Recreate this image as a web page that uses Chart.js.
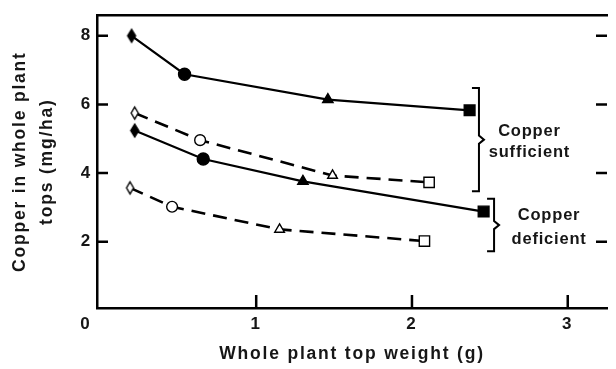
<!DOCTYPE html>
<html>
<head>
<meta charset="utf-8">
<script src="https://cdn.jsdelivr.net/npm/chart.js@4/dist/chart.umd.min.js"></script>
<style>
  html, body { margin: 0; padding: 0; background: #fff; overflow: hidden; }
  canvas { display: block; }
</style>
</head>
<body>
<canvas id="canvas" width="616" height="369"></canvas>
<script>
// values: top weight (g) vs copper (mg/ha)
const suffSolidX = [0.20, 0.54, 1.46, 2.37];
const suffSolidY = [8.00, 6.88, 6.14, 5.83];
const suffDashX  = [0.22, 0.64, 1.49, 2.11];
const suffDashY  = [5.75, 4.96, 3.93, 3.73];
const defSolidX  = [0.22, 0.66, 1.30, 2.46];
const defSolidY  = [5.24, 4.41, 3.76, 2.88];
const defDashX   = [0.19, 0.46, 1.15, 2.08];
const defDashY   = [3.57, 3.02, 2.36, 2.02];

const xTicks = [1, 2, 3];
const yTicks = [2, 4, 6, 8];
const originLabel = '0';
const xTitle = 'Whole plant top weight (g)';
const yTitle = ['Copper in whole plant', 'tops (mg/ha)'];
const groupLabels = [['Copper', 'sufficient'], ['Copper', 'deficient']];

const FONT = '"Liberation Sans", Arial, sans-serif';
const INK = '#161616';

// bracket placement (data units)
const brackets = [
    { x: 2.43, top: 6.48, bottom: 3.47, textX: 2.754, textY: [5.22, 4.59] },
    { x: 2.527, top: 3.25, bottom: 1.72, textX: 2.88, textY: [2.77, 2.06] }
];

function diamond(w, h, filled) {
    const c = document.createElement('canvas');
    c.width = w + 4; c.height = h + 4;
    const g = c.getContext('2d');
    g.beginPath();
    g.moveTo(c.width / 2, 2);
    g.lineTo(c.width - 2, c.height / 2);
    g.lineTo(c.width / 2, c.height - 2);
    g.lineTo(2, c.height / 2);
    g.closePath();
    g.fillStyle = filled ? '#000' : '#fff';
    g.fill();
    g.lineWidth = 1.4;
    g.strokeStyle = '#000';
    g.stroke();
    return c;
}
const dFill = diamond(8, 13, true);
const dOpen = diamond(7, 12, false);

function series(xs, ys, filled, dashed) {
    return {
        data: xs.map((x, i) => ({ x, y: ys[i] })),
        borderColor: '#000',
        borderWidth: dashed ? 2.6 : 2.2,
        borderDash: dashed ? [14, 8] : [],
        tension: 0,
        pointStyle: [filled ? dFill : dOpen, 'circle', 'triangle', 'rect'],
        pointRadius: filled ? [7, 6, 6, 7.6] : [6, 5.4, 5.6, 7.3],
        pointBackgroundColor: filled ? '#000' : '#fff',
        pointBorderColor: '#000',
        pointBorderWidth: 1.4
    };
}

const frame = {
    id: 'frame',
    beforeUpdate(chart) { chart.ctx.letterSpacing = '1.8px'; },
    beforeDraw(chart) { chart.ctx.letterSpacing = '1.8px'; },
    afterDraw(chart) {
        const { ctx, chartArea: a, scales: { x, y } } = chart;
        ctx.save();
        ctx.strokeStyle = '#000';
        ctx.lineWidth = 2.5;
        ctx.beginPath();
        yTicks.forEach(v => {
            const py = y.getPixelForValue(v);
            ctx.moveTo(a.left, py); ctx.lineTo(a.left + 11, py);
            ctx.moveTo(a.right - 11, py); ctx.lineTo(a.right, py);
        });
        xTicks.forEach(v => {
            const px = x.getPixelForValue(v);
            ctx.moveTo(px, a.bottom); ctx.lineTo(px, a.bottom - 13);
        });
        ctx.stroke();

        // braces
        ctx.lineWidth = 2;
        brackets.forEach(b => {
            const bx = x.getPixelForValue(b.x);
            const t = y.getPixelForValue(b.top), btm = y.getPixelForValue(b.bottom);
            const mid = (t + btm) / 2;
            ctx.beginPath();
            ctx.moveTo(bx - 7, t);
            ctx.lineTo(bx, t);
            ctx.lineTo(bx, mid - 4);
            ctx.lineTo(bx + 5, mid);
            ctx.lineTo(bx, mid + 4);
            ctx.lineTo(bx, btm);
            ctx.lineTo(bx - 7, btm);
            ctx.stroke();
        });

        ctx.fillStyle = INK;
        ctx.font = 'bold 16.5px ' + FONT;
        ctx.letterSpacing = '0.8px';
        ctx.textAlign = 'center';
        ctx.textBaseline = 'middle';
        brackets.forEach((b, i) => {
            groupLabels[i].forEach((txt, j) => {
                ctx.fillText(txt, x.getPixelForValue(b.textX), y.getPixelForValue(b.textY[j]));
            });
        });
        ctx.letterSpacing = '0px';
        ctx.font = 'bold 17px ' + FONT;
        ctx.fillText(originLabel, a.left - 12, x.top + 6 + 10.2);
        ctx.restore();
    }
};

const ctx = document.getElementById('canvas').getContext('2d');
new Chart(ctx, {
    type: 'line',
    data: {
        datasets: [
            series(suffSolidX, suffSolidY, true, false),
            series(suffDashX, suffDashY, false, true),
            series(defSolidX, defSolidY, true, false),
            series(defDashX, defDashY, false, true)
        ]
    },
    options: {
        responsive: false,
        animation: false,
        layout: { padding: { top: 8, left: 0, right: 0, bottom: 0 } },
        plugins: { legend: { display: false }, tooltip: { enabled: false } },
        scales: {
            x: {
                type: 'linear', position: 'bottom', min: -0.022, max: 3.252,
                afterBuildTicks: s => { s.ticks = xTicks.map(v => ({ value: v })); },
                afterFit: s => { s.height = 61; },
                grid: { drawOnChartArea: false, drawTicks: false },
                border: { display: true, color: '#000', width: 2.5 },
                ticks: { color: INK, font: { size: 17, family: FONT, weight: 'bold' }, padding: 6, maxRotation: 0 },
                title: { display: true, text: xTitle, color: INK,
                         font: { size: 17.5, family: FONT, weight: 'bold', lineHeight: 1.5 }, padding: { top: 0, bottom: 1.5 } }
            },
            x2: {
                type: 'linear', position: 'top', min: -0.022, max: 3.252,
                afterFit: s => { s.height = 0; },
                grid: { drawOnChartArea: false, drawTicks: false },
                border: { display: true, color: '#000', width: 2.5 },
                ticks: { display: false }
            },
            y: {
                type: 'linear', position: 'left', min: 0.07, max: 8.6,
                afterBuildTicks: s => { s.ticks = yTicks.map(v => ({ value: v })); },
                afterFit: s => { s.width = 97; },
                grid: { drawOnChartArea: false, drawTicks: false },
                border: { display: true, color: '#000', width: 2.5 },
                ticks: { color: INK, font: { size: 17, family: FONT, weight: 'bold' }, padding: 5 },
                title: { display: true, text: yTitle, color: INK,
                         font: { size: 17.5, family: FONT, weight: 'bold', lineHeight: 1.5 }, padding: { top: 7.5, bottom: 0 } }
            }
        }
    },
    plugins: [frame]
});
</script>
</body>
</html>
